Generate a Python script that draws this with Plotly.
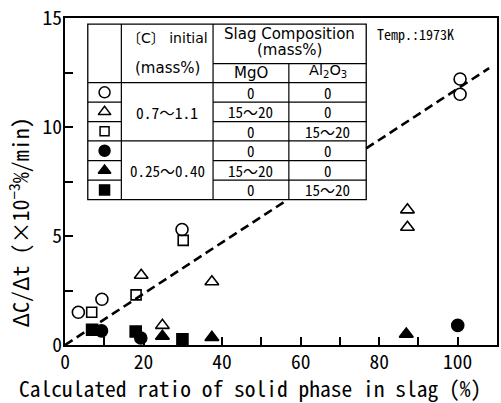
import plotly.graph_objects as go

# Decarburization rate vs. calculated solid-phase ratio in slag (1973 K)
open_circle_x = [3.4, 9.4, 29.8, 100.6, 100.6]
open_circle_y = [1.5, 2.1, 5.3, 12.2, 11.5]
open_triangle_x = [19.4, 24.8, 37.4, 87.2, 87.2]
open_triangle_y = [3.2, 0.9, 2.9, 6.2, 5.4]
open_square_x = [6.8, 18.1, 30.1]
open_square_y = [1.5, 2.3, 4.8]
filled_circle_x = [9.3, 19.3, 100.0]
filled_circle_y = [0.65, 0.32, 0.9]
filled_triangle_x = [24.8, 37.4, 86.9]
filled_triangle_y = [0.4, 0.35, 0.5]
filled_square_x = [6.9, 18.0, 29.9]
filled_square_y = [0.7, 0.62, 0.26]

# Trend line through the origin
trend_slope = 0.1176
trend_x_end = 108

# Legend table content
carbon_groups = ["0.7～1.1", "0.25～0.40"]
mgo_values = ["0", "15～20", "0", "0", "15～20", "0"]
al2o3_values = ["0", "0", "15～20", "0", "0", "15～20"]

# Legend table grid (data units)
col_x = [5.8, 14.35, 37.7, 57.0, 76.7]
head_y = [14.72, 12.91, 12.04]
row_y = [12.04, 11.14, 10.25, 9.36, 8.46, 7.56, 6.67]

MONO = "Noto Sans Mono CJK JP, DejaVu Sans Mono, monospace"
SANS = "DejaVu Sans, Noto Sans CJK JP"

series = [
    (open_circle_x, open_circle_y, "circle-open", 12),
    (open_triangle_x, open_triangle_y, "triangle-up-open", 12),
    (open_square_x, open_square_y, "square-open", 10),
    (filled_circle_x, filled_circle_y, "circle", 12),
    (filled_triangle_x, filled_triangle_y, "triangle-up", 12),
    (filled_square_x, filled_square_y, "square", 11),
]

fig = go.Figure()

# Dashed trend line, interrupted where it passes behind the legend table
x_in = row_y[-1] / trend_slope
x_out = col_x[-1]
fig.add_trace(go.Scatter(
    x=[0, x_in, None, x_out, trend_x_end],
    y=[0, trend_slope * x_in, None, trend_slope * x_out, trend_slope * trend_x_end],
    mode="lines", line=dict(color="black", width=2.6, dash="9px,5px"),
    hoverinfo="skip", showlegend=False, cliponaxis=False,
))

for xs, ys, sym, sz in series:
    fig.add_trace(go.Scatter(
        x=xs, y=ys, mode="markers",
        marker=dict(symbol=sym, size=sz, color="black",
                    line=dict(color="black", width=1.6)),
        showlegend=False, cliponaxis=False,
    ))

# Legend symbols in the first column of the table
sym_x = (col_x[0] + col_x[1]) / 2
sym_y = [(row_y[i] + row_y[i + 1]) / 2 for i in range(6)]
for i, (_, _, sym, sz) in enumerate(series):
    fig.add_trace(go.Scatter(
        x=[sym_x], y=[sym_y[i]], mode="markers",
        marker=dict(symbol=sym, size=sz - 1, color="black",
                    line=dict(color="black", width=1.5)),
        showlegend=False, cliponaxis=False,
    ))

shapes = []
def hline(x0, x1, y, w=1.2):
    shapes.append(dict(type="line", x0=x0, x1=x1, y0=y, y1=y,
                       line=dict(color="black", width=w), layer="below"))
def vline(x, y0, y1, w=1.2):
    shapes.append(dict(type="line", x0=x, x1=x, y0=y0, y1=y1,
                       line=dict(color="black", width=w), layer="below"))

# Table frame
shapes.append(dict(type="rect", x0=col_x[0], x1=col_x[-1], y0=row_y[-1], y1=head_y[0],
                   line=dict(color="black", width=1.3), fillcolor="white", layer="below"))
vline(col_x[1], row_y[-1], head_y[0])
vline(col_x[2], row_y[-1], head_y[0])
vline(col_x[3], row_y[-1], head_y[1])
hline(col_x[2], col_x[4], head_y[1])
hline(col_x[0], col_x[4], head_y[2])
for i in range(1, 6):
    if i == 3:
        hline(col_x[0], col_x[4], row_y[i])
    else:
        hline(col_x[0], col_x[1], row_y[i])
        hline(col_x[2], col_x[4], row_y[i])

ann = []
def txt(x, y, s, size=15, xanchor="center", font=SANS):
    ann.append(dict(x=x, y=y, text=s, showarrow=False, xanchor=xanchor, yanchor="middle",
                    font=dict(family=font, size=size, color="black")))

c2 = (col_x[1] + col_x[2]) / 2
c3 = (col_x[2] + col_x[3]) / 2
c4 = (col_x[3] + col_x[4]) / 2
c34 = (col_x[2] + col_x[4]) / 2
txt(c2, 14.1, "〔C〕 initial", size=14)
txt(c2, 12.7, "(mass%)", size=15)
txt(c34, 14.27, "Slag Composition", size=15)
txt(c34, 13.55, "(mass%)", size=15)
txt(c3, 12.5, "MgO", size=15)
txt(c4, 12.55, "Al<sub>2</sub>O<sub>3</sub>", size=14.5)
txt(c2, (row_y[0] + row_y[3]) / 2, carbon_groups[0], size=15.5, font=MONO)
txt(c2, (row_y[3] + row_y[6]) / 2, carbon_groups[1], size=15, font=MONO)
for i in range(6):
    txt(c3, sym_y[i], mgo_values[i], size=15, font=MONO)
    txt(c4, sym_y[i], al2o3_values[i], size=15, font=MONO)
txt(79.0, 14.25, "Temp.:1973K", size=14, xanchor="left", font=MONO)

# Axis titles
ann.append(dict(xref="paper", yref="paper", x=0.429, y=0, yshift=-42, xanchor="center",
                yanchor="middle", showarrow=False,
                text="Calculated ratio of solid phase in slag (%)",
                font=dict(family=MONO, size=21.5, color="black")))
ann.append(dict(xref="paper", yref="paper", x=0, xshift=-47, y=0.375, textangle=-90,
                xanchor="center", yanchor="middle", showarrow=False,
                text="ΔC/Δt (×10<sup>−3</sup>%/min)",
                font=dict(family=MONO, size=22, color="black")))

axis_common = dict(ticks="inside", ticklen=8, tickwidth=1.5, tickcolor="black",
                   showline=True, linecolor="black", linewidth=2, mirror=True,
                   showgrid=False, zeroline=False,
                   tickfont=dict(family=MONO, size=19.5, color="black"))

fig.update_layout(
    width=501, height=403,
    margin=dict(l=65, r=2, t=17, b=58),
    paper_bgcolor="white", plot_bgcolor="white",
    shapes=shapes, annotations=ann,
    xaxis=dict(range=[0, 110], dtick=20, tick0=0, ticklabelstandoff=-1,
               minor=dict(dtick=10, ticks="inside", ticklen=8, tickwidth=1.5, tickcolor="black"),
               **axis_common),
    yaxis=dict(range=[0, 15], dtick=5, tick0=0, ticklabelstandoff=-3,
               minor=dict(dtick=2.5, ticks="inside", ticklen=8, tickwidth=1.5, tickcolor="black"),
               **axis_common),
)

fig.write_html("out.html")
